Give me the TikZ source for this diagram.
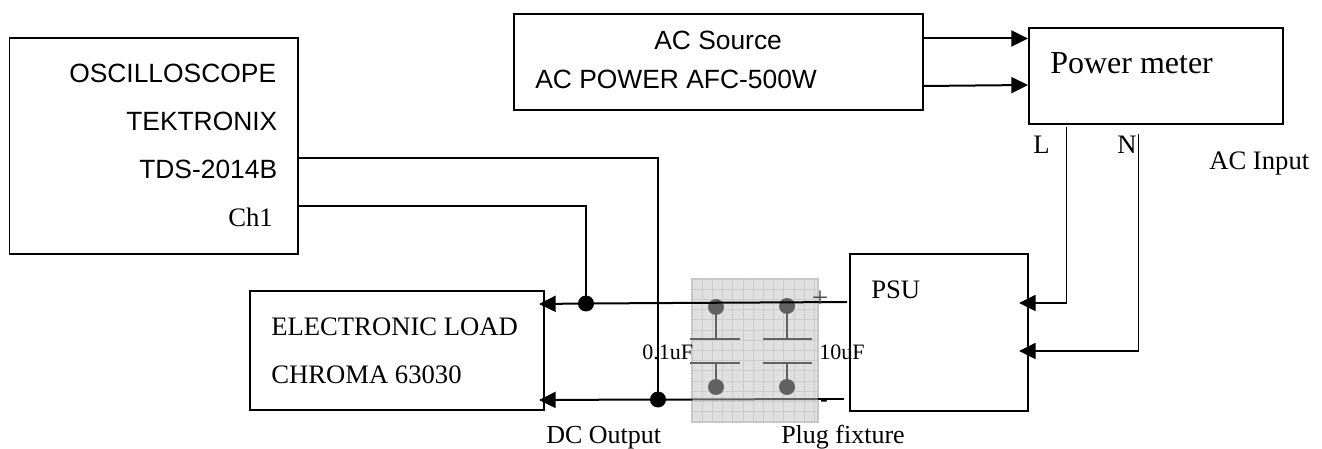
\documentclass[tikz,border=0pt]{standalone}
\usepackage{fontspec}
\setmainfont{Liberation Serif}
\setsansfont{Liberation Sans}
\usetikzlibrary{arrows.meta,calc}
\tikzset{
 x=0.75pt,y=-0.75pt,
 box/.style={draw=black,line width=1.25pt,fill=white,inner sep=0pt},
 wire/.style={draw=black,line width=1.5pt},
 thinwire/.style={draw=black,line width=1.3pt},
 tip/.style={-{Triangle[length=12.5pt,width=12pt]}},
 sans/.style={font=\sffamily\fontsize{19.8}{22}\selectfont,inner sep=0pt,anchor=base west},
 serif/.style={font=\rmfamily\fontsize{20}{22}\selectfont,inner sep=0pt,anchor=base west},
 cut/.style={font=\rmfamily\fontsize{19.5}{22}\selectfont,inner sep=0pt,anchor=base west},
 tiny/.style={font=\rmfamily\fontsize{16.5}{18}\selectfont,inner sep=0pt,anchor=base west},
 big/.style={font=\rmfamily\fontsize{24}{26}\selectfont,inner sep=0pt,anchor=base west},
 dot/.style={circle,fill=black,inner sep=0pt,minimum size=12pt},
 gdot/.style={circle,fill=black!62,inner sep=0pt,minimum size=12pt},
 plate/.style={draw=black!62,line width=1.5pt},
 stem/.style={draw=black!62,line width=1.5pt},
}
\begin{document}
\begin{tikzpicture}
\useasboundingbox (0,0) rectangle (1322,449);
% boxes
\node[box,minimum width=216.4pt,minimum height=162pt] (osc) at (153.75,146) {};
\node[box,minimum width=220.5pt,minimum height=89.25pt] (load) at (397,350.5) {};
\node[box,minimum width=306.75pt,minimum height=72pt] (acs) at (718.5,62) {};
\node[box,minimum width=190.5pt,minimum height=72pt] (pm) at (1156,76) {};
\node[box,minimum width=133.5pt,minimum height=117.75pt] (psu) at (939,332.5) {};
% fixture
\node[fill=black!12,draw=black!22,line width=1pt,minimum width=94.5pt,minimum height=107.25pt,inner sep=0pt] (fix) at (755,350.5) {};
\foreach \gi in {1,...,12} \draw[black!20,line width=0.6pt] ({692+10.2*\gi},279) -- ({692+10.2*\gi},422);
\foreach \gi in {1,...,13} \draw[black!20,line width=0.6pt] (692,{279+10.2*\gi}) -- (818,{279+10.2*\gi});
% coordinates
\coordinate (d1) at (586,303.5);
\coordinate (d2) at (658,399.5);
\coordinate (ts) at (847,302);
\coordinate (bs) at (844,399);
\coordinate (ta) at (539,304);
\coordinate (ba) at (539,400);
\coordinate (fbl) at (692,399.5);
\coordinate (fbr) at (818,399);
\coordinate (o1) at (298,158);
\coordinate (o2) at (298,206);
\coordinate (pl) at (1066.5,127);
\coordinate (pn) at (1138.5,134);
\coordinate (al) at (1019,303);
\coordinate (an) at (1019,351);
\coordinate (s1) at (923,38.5);
\coordinate (m1) at (1028,38.5);
\coordinate (s2) at (923,86);
\coordinate (m2) at (1028,85);
% capacitors
\node[gdot] (c1a) at (716,307) {};
\node[gdot] (c1b) at (716,387) {};
\node[gdot] (c2a) at (787,306) {};
\node[gdot] (c2b) at (787,387) {};
\coordinate (p1a) at (716,339);\coordinate (p1b) at (716,363);
\coordinate (p2a) at (787,339);\coordinate (p2b) at (787,363);
\draw[stem] (c1a) -- (p1a);\draw[stem] (c1b) -- (p1b);
\draw[stem] (c2a) -- (p2a);\draw[stem] (c2b) -- (p2b);
\draw[plate] (690,339) -- (740,339);
\draw[plate] (690,363) -- (740,363);
\draw[plate] (763,339) -- (812,339);
\draw[plate] (763,363) -- (812,363);
\draw[plate] (fbl) -- (fbr);
% wires
\draw[wire,tip] (ts) -- (d1) -- (ta);
\draw[wire] (bs) -- (fbr);
\draw[wire,tip] (fbl) -- (d2) -- (ba);
\draw[wire] (o1) -| (d2);
\draw[wire] (o2) -| (d1);
\node[dot] (j1) at (d1) {};
\node[dot] (j2) at (d2) {};
\draw[wire,tip] (s1) -- (m1);
\draw[wire,tip] (s2) -- (m2);
\draw[thinwire,tip] (pl) |- (al);
\draw[thinwire,tip] (pn) |- (an);
% text
\node[sans] (t1) at (69,82.7) {OSCILLOSCOPE};
\node[sans] (t2) at (126,131) {TEKTRONIX};
\node[sans] (t3) at (139,179) {TDS-2014B};
\node[serif] (t4) at (228,227) {Ch1};
\node[serif] (t5) at (271,335) {ELECTRONIC LOAD};
\node[serif] (t6) at (271,383) {CHROMA 63030};
\node[sans] (t7) at (654,50) {AC Source};
\node[sans] (t8) at (535,89) {AC POWER AFC-500W};
\node[big] (t9) at (1050,74) {Power meter};
\node[serif] (t10) at (1033,154) {L};
\node[serif] (t11) at (1117,154) {N};
\node[serif] (t12) at (1209,170) {AC Input};
\node[serif] (t13) at (871,299) {PSU};
\node[serif,text=black!70,font=\rmfamily\fontsize{22}{24}\selectfont] (t14) at (811.5,307) {+};
\node[tiny] (t19) at (820,406) {-};
\node[tiny] (t15) at (642,359) {0.1uF};
\node[tiny] (t16) at (819,359) {10uF};
\node[cut] (t17) at (546,443.5) {DC Output};
\node[cut] (t18) at (781,443.5) {Plug fixture};
\end{tikzpicture}
\end{document}
